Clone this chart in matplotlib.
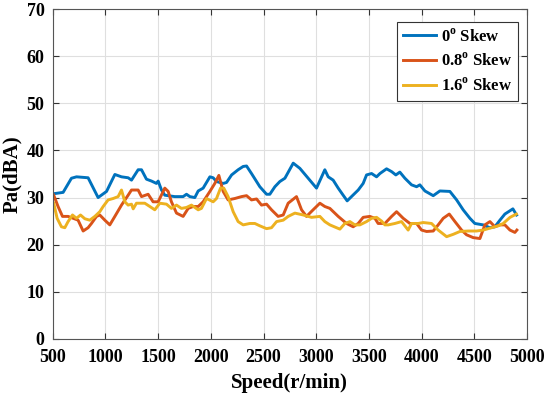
import matplotlib
matplotlib.use('Agg')
import matplotlib.pyplot as plt
import matplotlib as mpl

mpl.rcParams['font.family'] = 'Liberation Serif'
mpl.rcParams['font.weight'] = 'bold'
mpl.rcParams['mathtext.fontset'] = 'custom'
mpl.rcParams['mathtext.rm'] = 'Liberation Serif:bold'
mpl.rcParams['mathtext.bf'] = 'Liberation Serif:bold'

# 0 deg skew
speed_0 = [503, 598, 677, 725, 835, 930, 1010, 1089, 1152, 1215, 1247, 1310, 1342, 1389,
           1437, 1484, 1500, 1532, 1563, 1658, 1737, 1769, 1801, 1848, 1880, 1927, 1991,
           2022, 2054, 2117, 2149, 2197, 2259, 2307, 2339, 2386, 2465, 2529, 2560, 2608,
           2655, 2703, 2782, 2845, 2924, 3003, 3082, 3114, 3161, 3209, 3256, 3294, 3335,
           3399, 3446, 3478, 3526, 3573, 3605, 3668, 3716, 3756, 3794, 3842, 3905, 3953,
           3984, 4032, 4111, 4174, 4269, 4333, 4395, 4459, 4506, 4585, 4649, 4696, 4744,
           4791, 4867, 4902]
pa_0 = [30.8, 31.1, 34.1, 34.4, 34.2, 30.0, 31.3, 34.9, 34.4, 34.2, 33.7, 35.9, 35.9, 33.9,
        33.5, 33.0, 33.5, 31.6, 30.5, 30.2, 30.2, 30.7, 30.2, 30.0, 31.4, 32.0, 34.4,
        34.2, 33.4, 33.0, 33.2, 34.8, 35.9, 36.6, 36.7, 35.1, 32.3, 30.7, 30.7, 32.3,
        33.4, 34.1, 37.3, 36.2, 34.1, 32.0, 35.9, 34.4, 33.7, 32.0, 30.5, 29.3, 30.2,
        31.6, 33.0, 34.8, 35.1, 34.4, 35.1, 36.1, 35.5, 34.8, 35.4, 34.1, 32.7, 32.3,
        32.7, 31.4, 30.4, 31.4, 31.3, 29.5, 27.4, 25.6, 24.5, 24.2, 23.6, 23.8, 25.2,
        26.5, 27.6, 26.3]

# 0.8 deg skew
speed_08 = [509, 550, 592, 645, 693, 740, 788, 835, 867, 915, 946, 994, 1041, 1089, 1152,
            1215, 1247, 1310, 1342, 1405, 1452, 1500, 1563, 1595, 1626, 1674, 1737, 1785,
            1832, 1880, 1927, 1991, 2038, 2076, 2117, 2164, 2228, 2291, 2339, 2386, 2434,
            2481, 2529, 2576, 2639, 2687, 2734, 2813, 2861, 2908, 2971, 3035, 3082, 3130,
            3209, 3288, 3351, 3399, 3446, 3509, 3557, 3588, 3652, 3716, 3763, 3826, 3889,
            3953, 4000, 4048, 4111, 4158, 4206, 4263, 4317, 4380, 4427, 4490, 4554, 4601,
            4649, 4696, 4744, 4791, 4839, 4886, 4905]
pa_08 = [30.5, 28.1, 26.0, 26.0, 25.6, 25.2, 22.9, 23.6, 24.5, 26.0, 26.3, 25.2, 24.2, 26.0,
         28.4, 30.5, 31.6, 31.6, 30.2, 30.7, 29.1, 29.1, 32.0, 31.3, 29.1, 26.7, 26.0, 27.7,
         28.1, 28.1, 29.1, 31.3, 33.0, 34.7, 31.3, 29.5, 29.8, 30.2, 30.4, 29.5, 29.7,
         28.4, 28.6, 27.4, 26.0, 26.3, 28.8, 30.2, 27.4, 26.0, 27.4, 28.8, 28.1, 27.7,
         26.0, 24.5, 23.8, 24.5, 25.8, 26.0, 25.6, 24.5, 24.5, 26.0, 27.0, 25.6, 24.5,
         24.5, 23.1, 22.8, 22.9, 24.2, 25.6, 26.5, 24.9, 23.1, 22.1, 21.5, 21.3, 24.2,
         24.9, 23.8, 24.2, 24.2, 23.1, 22.6, 23.1]

# 1.6 deg skew
speed_16 = [509, 541, 582, 614, 645, 687, 725, 763, 804, 851, 899, 946, 978, 1025, 1073,
            1120, 1152, 1184, 1215, 1247, 1263, 1294, 1373, 1421, 1468, 1516, 1579, 1626,
            1674, 1721, 1769, 1816, 1880, 1911, 1959, 2022, 2054, 2092, 2123, 2164, 2212,
            2259, 2307, 2370, 2418, 2465, 2529, 2576, 2624, 2687, 2734, 2798, 2877, 2956,
            3035, 3082, 3130, 3193, 3225, 3272, 3320, 3367, 3415, 3478, 3526, 3573, 3621,
            3652, 3684, 3747, 3810, 3873, 3905, 3968, 4016, 4095, 4158, 4238, 4301, 4364,
            4443, 4522, 4585, 4664, 4728, 4775, 4840, 4900]
pa_16 = [28.8, 25.6, 23.8, 23.6, 24.9, 26.3, 25.6, 26.3, 25.5, 25.2, 26.0, 27.0, 28.1, 29.5,
         29.8, 30.2, 31.6, 29.1, 28.4, 28.6, 27.6, 28.8, 28.8, 28.1, 27.4, 28.8, 28.6, 27.7,
         28.4, 27.7, 27.9, 28.4, 27.4, 27.7, 29.8, 29.1, 29.8, 32.0, 32.0, 30.2, 27.0,
         24.9, 24.2, 24.5, 24.5, 24.0, 23.4, 23.6, 24.9, 25.2, 26.0, 26.7, 26.3, 25.8,
         26.0, 24.9, 24.2, 23.6, 23.3, 24.5, 24.9, 24.2, 24.2, 24.9, 25.6, 25.8, 25.0,
         24.2, 24.2, 24.5, 24.9, 23.1, 24.5, 24.5, 24.7, 24.5, 23.1, 21.7, 22.2, 22.8,
         22.9, 22.9, 23.1, 23.6, 24.0, 24.5, 25.8, 26.5]

fig = plt.figure(figsize=(5.5, 3.95), dpi=100)
ax = fig.add_axes([0.096, 0.142, 0.862, 0.835])

ax.plot(speed_0, pa_0, color='#0072BD', lw=2.1, label=r'0$^{\mathbf{o}}$ Skew')
ax.plot(speed_08, pa_08, color='#D95319', lw=2.1, label=r'0.8$^{\mathbf{o}}$ Skew')
ax.plot(speed_16, pa_16, color='#EDB120', lw=2.1, label=r'1.6$^{\mathbf{o}}$ Skew')

ax.set_xlim(500, 5000)
ax.set_ylim(0, 70)
ax.set_xticks(range(500, 5001, 500))
ax.set_yticks(range(0, 71, 10))
ax.grid(True, color='#dfdfdf', lw=0.8)
ax.set_axisbelow(True)
ax.tick_params(direction='in', top=True, right=True, labelsize=13, length=4,
               color='#333333')
ax.tick_params(axis='x', pad=7)
ax.tick_params(axis='y', pad=6)
for s in ax.spines.values():
    s.set_color('#555555')
    s.set_linewidth(0.8)

ax.set_xlabel('Speed(r/min)', fontsize=15, fontweight='bold', labelpad=5)
ax.set_ylabel('Pa(dBA)', fontsize=15, fontweight='bold', labelpad=3)

leg = ax.legend(loc='upper right', bbox_to_anchor=(0.981, 0.961), borderaxespad=0,
                fontsize=12, fancybox=False, edgecolor='#333333', framealpha=1,
                handlelength=2.0, handletextpad=0.3, labelspacing=0.45,
                borderpad=0.35)
leg.get_frame().set_linewidth(0.8)

plt.savefig('out.png', dpi=100)
